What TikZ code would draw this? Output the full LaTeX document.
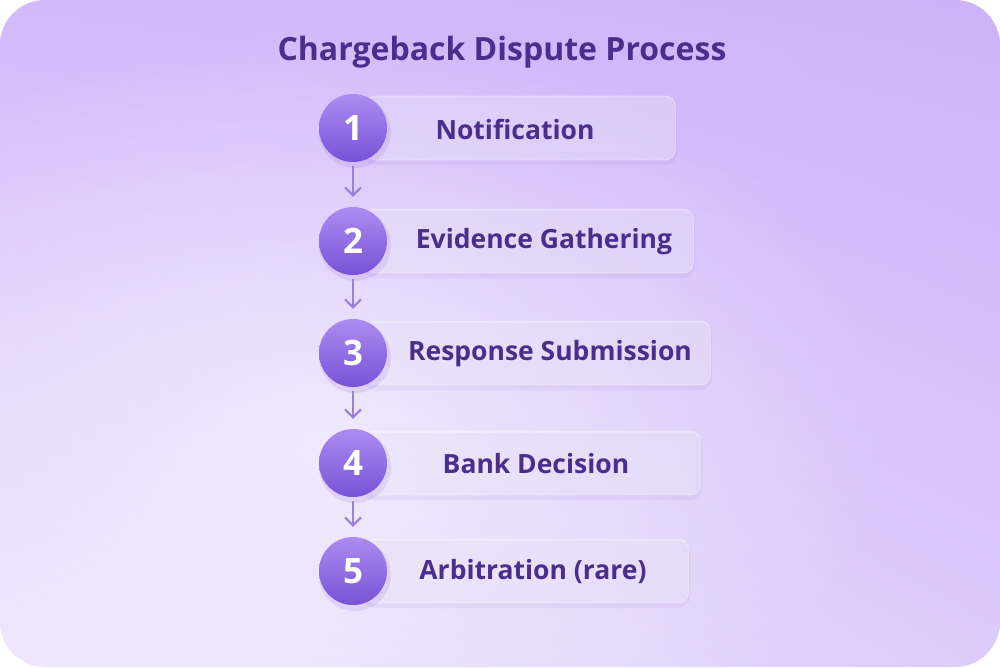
\documentclass[tikz,border=0pt]{standalone}
\usepackage{fontspec}
\setmainfont{Open Sans}
\usetikzlibrary{arrows.meta,fadings,shadings}
\definecolor{bgTL}{HTML}{D3B9FB}
\definecolor{bgTR}{HTML}{CDB2F9}
\definecolor{bgBL}{HTML}{EEE3FC}
\definecolor{bgBR}{HTML}{DDCBFA}
\definecolor{txt}{HTML}{4B2E8C}
\definecolor{circTop}{HTML}{AC8CF1}
\definecolor{circBot}{HTML}{7852D6}
\definecolor{arrowc}{HTML}{9C7EDD}
\definecolor{shadowc}{HTML}{9A78DC}
\tikzfading[name=softglow, inner color=transparent!0, outer color=transparent!100]
\tikzset{
  stepcirc/.style={circle,minimum size=68pt,inner sep=0pt,top color=circTop,bottom color=circBot,
    text=white,font=\bfseries\fontsize{35}{35}\selectfont},
  stepbox/.style={rectangle,rounded corners=10pt,minimum height=64pt,anchor=west,inner sep=0pt,
    fill=white,fill opacity=0.30,draw=white,draw opacity=0.35,line width=0.8pt},
  steptext/.style={text=txt,font=\bfseries\fontsize{26.5}{26.5}\selectfont},
  steparrow/.style={draw=arrowc,line width=2pt,-{Straight Barb[length=8pt,width=16pt,line width=2pt]},
    shorten <=4pt,shorten >=10pt},
}
\begin{document}
\begin{tikzpicture}[x=1pt,y=-1pt]
\useasboundingbox (0,0) rectangle (1000,667);
\begin{scope}
  \clip[rounded corners=45pt] (0,0) rectangle (1000,667);
  \shade[upper left=bgTL,upper right=bgTR,lower left=bgBL,lower right=bgBR] (0,0) rectangle (1000,667);
  \fill[white,opacity=0.55,path fading=softglow] (330,440) ellipse (560pt and 420pt);
\end{scope}
% title
\node[text=txt,font=\bfseries\fontsize{32}{32}\selectfont] (title) at (502,52) {Chargeback Dispute Process};
% boxes with shadows
\foreach \i/\y/\w in {1/128/310,2/241/328,3/353/345,4/463/335,5/571/323}{
  \fill[shadowc,opacity=0.10,rounded corners=12pt] (363,\y-30) rectangle (367+\w,\y+37);
  \node[stepbox,minimum width=\w pt] (b\i) at (365,\y) {};
}
% circles with shadows
\foreach \i/\y in {1/128,2/241,3/353,4/463,5/571}{
  \fill[shadowc,opacity=0.18] (355,\y+4) circle (36pt);
  \node[stepcirc] (c\i) at (353,\y) {\i};
}
% labels
\node[steptext] (t1) at (515,129) {Notification};
\node[steptext] (t2) at (544,242) {Evidence Gathering};
\node[steptext] (t3) at (550,354) {Response Submission};
\node[steptext] (t4) at (536,464) {Bank Decision};
\node[steptext] (t5) at (533,572) {Arbitration (rare)};
% arrows
\draw[steparrow] (c1.south) -- (c2.north);
\draw[steparrow] (c2.south) -- (c3.north);
\draw[steparrow] (c3.south) -- (c4.north);
\draw[steparrow] (c4.south) -- (c5.north);
\end{tikzpicture}
\end{document}
